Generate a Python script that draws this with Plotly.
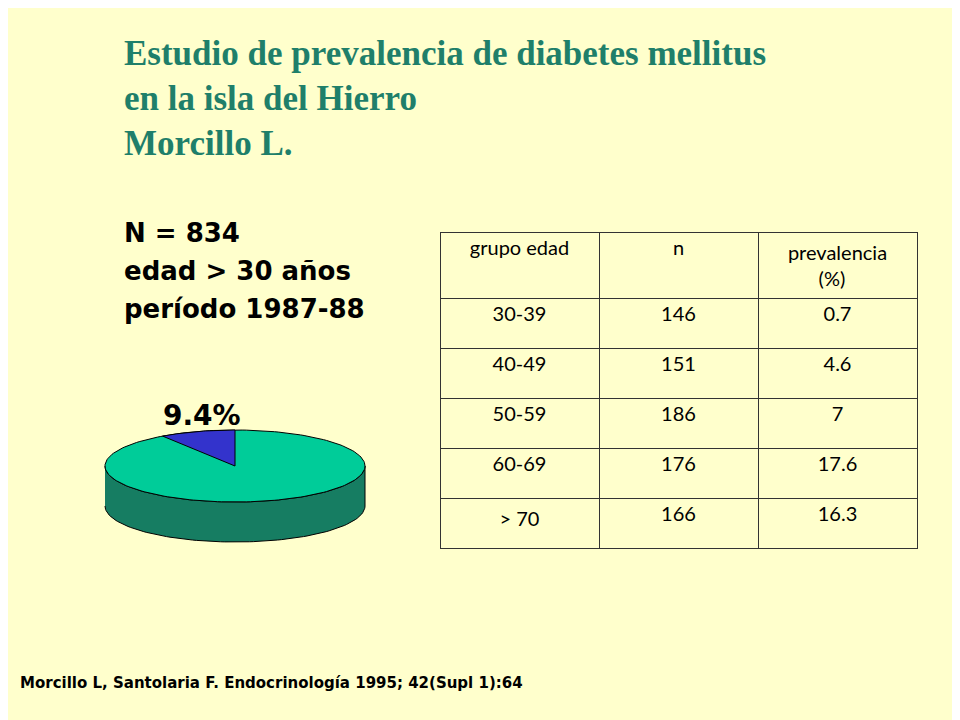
import numpy as np
import plotly.graph_objects as go

grupos = ["30-39", "40-49", "50-59", "60-69", "> 70"]
n = [146, 151, 186, 176, 166]
prevalencia = ["0.7", "4.6", "7", "17.6", "16.3"]
pct_diabetes = 9.4

bg = "#FFFFCC"
teal = "#1F7F6A"
off = 8  # margen del body de la página

fig = go.Figure()

# pastel 3D simulado: elipse
cx, cy, rx, ry, depth = 235, 466, 130, 36, 40
t = np.linspace(np.pi, 2 * np.pi, 100)
side_x = np.concatenate([cx + rx * np.cos(t), (cx + rx * np.cos(t))[::-1]])
side_y = np.concatenate([cy - ry * np.sin(t) + depth, (cy - ry * np.sin(t))[::-1]])
fig.add_trace(go.Scatter(x=side_x, y=side_y, fill="toself", fillcolor="#167D62",
                         line=dict(color="black", width=1), mode="lines", hoverinfo="skip"))

t = np.linspace(0, 2 * np.pi, 200)
fig.add_trace(go.Scatter(x=cx + rx * np.cos(t), y=cy - ry * np.sin(t), fill="toself",
                         fillcolor="#00CC99", line=dict(color="black", width=1),
                         mode="lines", hoverinfo="skip"))

a = np.linspace(np.pi / 2, np.pi / 2 + 2 * np.pi * pct_diabetes / 100, 40)
fig.add_trace(go.Scatter(x=np.concatenate([[cx], cx + rx * np.cos(a), [cx]]),
                         y=np.concatenate([[cy], cy - ry * np.sin(a), [cy]]),
                         fill="toself", fillcolor="#3333CC", line=dict(color="black", width=1),
                         mode="lines", hoverinfo="skip"))

fig.add_trace(go.Table(
    domain=dict(x=[(440 - off) / 960, (918 - off) / 960],
                y=[1 - (565 - off) / 720, 1 - (232 - off) / 720]),
    columnwidth=[1, 1, 1],
    header=dict(values=["grupo edad", "n", "prevalencia<br>      (%)"],
                fill_color=bg, line_color="#333333", height=66,
                font=dict(family="Lato", size=20, color="black"), align="center"),
    cells=dict(values=[grupos, n, prevalencia], fill_color=bg, line_color="#333333",
               height=50, font=dict(family="Lato", size=20, color="black"), align="center"),
))

for txt, y in [("Estudio de prevalencia de diabetes mellitus", 53),
               ("en la isla del Hierro", 98), ("Morcillo L.", 143)]:
    fig.add_annotation(x=122, y=y, text="<b>" + txt + "</b>", showarrow=False, xanchor="left",
                       font=dict(family="Liberation Serif", size=35, color=teal))

for txt, y in [("N = 834", 233), ("edad > 30 años", 271), ("período 1987-88", 309)]:
    fig.add_annotation(x=122, y=y, text="<b>" + txt + "</b>", showarrow=False, xanchor="left",
                       font=dict(family="DejaVu Sans", size=26, color="black"))

fig.add_annotation(x=202, y=415, text="<b>9.4%</b>", showarrow=False,
                   font=dict(family="DejaVu Sans", size=28, color="black"))
fig.add_annotation(x=18, y=683, text="<b>Morcillo L, Santolaria F. Endocrinología 1995; 42(Supl 1):64</b>",
                   showarrow=False, xanchor="left",
                   font=dict(family="DejaVu Sans", size=15, color="black"))

fig.update_xaxes(range=[off, 960 + off], visible=False)
fig.update_yaxes(range=[720 + off, off], visible=False)
fig.update_layout(width=960, height=720, margin=dict(l=0, r=0, t=0, b=0),
                  paper_bgcolor=bg, plot_bgcolor=bg, showlegend=False)
fig.write_html("out.html")
